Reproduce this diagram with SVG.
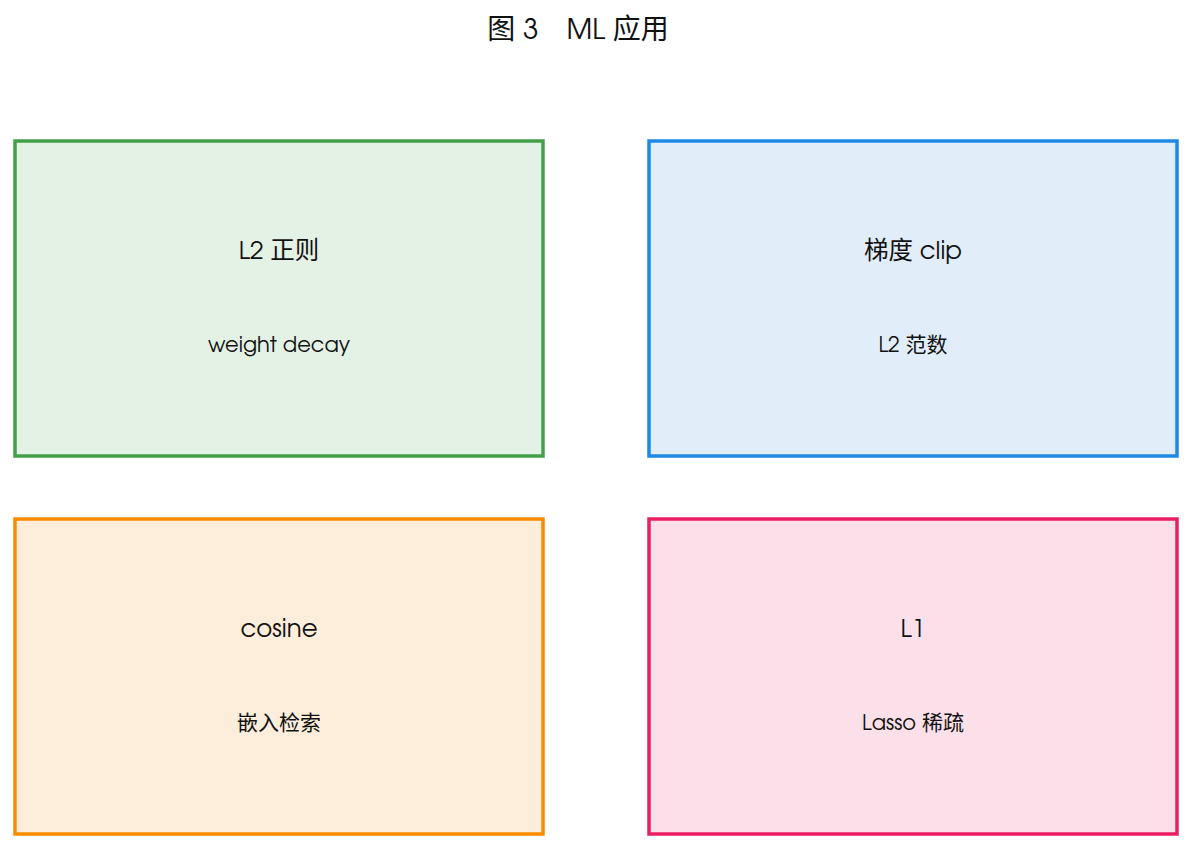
<svg xmlns="http://www.w3.org/2000/svg" width="1192" height="849" viewBox="0 0 1192 849">
<style>
text{font-family:"URW Gothic","TeX Gyre Adventor","Noto Sans","Noto Sans CJK SC",sans-serif;fill:#111;text-anchor:middle;dominant-baseline:central}
.t{font-size:24.5px}
.s{font-size:21px}
.h{font-size:28px}
rect{stroke-width:3.5}
</style>
<rect width="1192" height="849" fill="#fff" style="stroke:none"/>
<text class="h" x="578" y="31">图 3　ML 应用</text>
<g id="connectors"></g>
<g id="n1"><rect x="15" y="141" width="528" height="315" fill="#E4F2E5" stroke="#43A047"/><text class="t" x="279" y="252">L2 正则</text><text class="s" x="279" y="346">weight decay</text></g>
<g id="n2"><rect x="649" y="141" width="528" height="315" fill="#E1EEF9" stroke="#1E88E5"/><text class="t" x="913" y="252">梯度 clip</text><text class="s" x="913" y="346">L2 范数</text></g>
<g id="n3"><rect x="15" y="519" width="528" height="315" fill="#FDEEDC" stroke="#FB8C00"/><text class="t" x="279" y="630">cosine</text><text class="s" x="279" y="724">嵌入检索</text></g>
<g id="n4"><rect x="649" y="519" width="528" height="315" fill="#FCE0E9" stroke="#E91E63"/><text class="t" x="913" y="630">L1</text><text class="s" x="913" y="724">Lasso 稀疏</text></g>
</svg>
